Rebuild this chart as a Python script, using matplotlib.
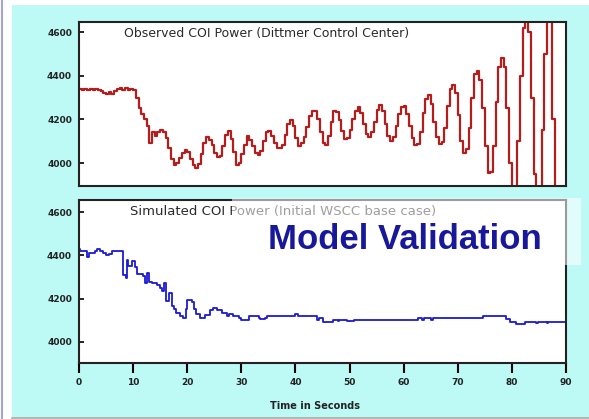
import matplotlib.pyplot as plt
from matplotlib.patches import Rectangle

# Observed COI power, sampled every 0.5 s (MW)
obs_t = [i * 0.5 for i in range(177)]
obs_mw = [
    4338, 4336, 4340, 4335, 4338, 4333, 4340, 4336, 4330, 4322,
    4316, 4324, 4318, 4332, 4338, 4342, 4336, 4344, 4336, 4340,
    4334, 4300, 4250, 4225, 4200, 4170, 4090, 4140, 4125, 4140,
    4150, 4142, 4115, 4070, 4020, 3990, 4000, 4025, 4045, 4058,
    4050, 4020, 3990, 3978, 3995, 4040, 4090, 4118, 4105, 4085,
    4045, 4030, 4032, 4080, 4130, 4145, 4110, 4050, 3990, 4000,
    4040, 4085, 4122, 4105, 4080, 4045, 4038, 4055, 4100, 4140,
    4147, 4125, 4090, 4070, 4068, 4085, 4130, 4180, 4196, 4170,
    4115, 4080, 4090, 4120, 4165, 4215, 4240, 4238, 4200, 4140,
    4090, 4085, 4125, 4190, 4240, 4235, 4195, 4145, 4110, 4115,
    4150, 4200, 4240, 4255, 4230, 4180, 4135, 4120, 4140, 4190,
    4245, 4266, 4240, 4180, 4125, 4100, 4120, 4170, 4225, 4255,
    4260, 4225, 4170, 4115, 4085, 4088, 4140, 4230, 4295, 4310,
    4270, 4190, 4120, 4088, 4095, 4160, 4260, 4340, 4357, 4320,
    4220, 4100, 4045, 4065, 4160, 4300, 4410, 4422, 4380, 4250,
    4080, 3955, 3960, 4080, 4280, 4440, 4480, 4440, 4250, 4000,
    3850, 3860, 4100, 4400, 4620, 4700, 4600, 4300, 3950, 3800,
    3850, 4150, 4500, 4720, 4650, 4200, 3850,
]

# Simulated COI power (initial WSCC base case), step changes
sim_t = [
    0.0, 0.2, 1.5, 1.9, 3.0, 3.3, 3.9, 4.5, 5.0, 5.6,
    6.1, 8.1, 8.2, 8.6, 8.8, 9.1, 9.8, 10.3, 10.8, 11.9,
    12.2, 12.6, 12.9, 13.4, 14.4, 15.0, 15.4, 15.8, 16.1, 16.7,
    17.1, 17.6, 18.0, 18.6, 19.2, 19.7, 20.0, 20.8, 21.3, 21.7,
    22.4, 23.2, 24.2, 24.7, 25.5, 26.4, 27.3, 27.8, 28.4, 29.6,
    30.0, 31.5, 33.3, 33.5, 34.3, 34.8, 38.4, 40.0, 40.5, 43.9,
    44.3, 45.1, 47.0, 47.8, 48.1, 49.5, 50.9, 62.6, 63.4, 63.7,
    65.0, 65.4, 74.6, 79.0, 79.6, 80.8, 82.4, 84.5, 84.8, 86.4,
    86.7, 90.0,
]
sim_mw = [
    4430, 4420, 4392, 4412, 4418, 4428, 4420, 4412, 4400, 4408,
    4418, 4418, 4308, 4296, 4380, 4350, 4372, 4345, 4312, 4306,
    4272, 4320, 4278, 4272, 4262, 4250, 4235, 4272, 4188, 4225,
    4166, 4150, 4133, 4120, 4110, 4150, 4195, 4186, 4150, 4130,
    4110, 4124, 4145, 4156, 4146, 4133, 4120, 4130, 4118, 4110,
    4102, 4120, 4112, 4106, 4110, 4120, 4120, 4128, 4120, 4102,
    4108, 4092, 4102, 4095, 4102, 4094, 4102, 4112, 4102, 4112,
    4102, 4112, 4120, 4104, 4092, 4084, 4090, 4087, 4090, 4086,
    4090, 4090,
]

y_ticks = [4000, 4200, 4400, 4600]
x_ticks = [0, 10, 20, 30, 40, 50, 60, 70, 80, 90]

W, H = 589, 419
fig = plt.figure(figsize=(W / 100, H / 100), dpi=100)
fig.patch.set_facecolor("white")


def fbox(x0, y0, x1, y1):
    # pixel box (top-left origin) -> figure fraction rect
    return [x0 / W, 1 - y1 / H, (x1 - x0) / W, (y1 - y0) / H]


# slide background
fig.add_artist(Rectangle((12 / W, 1 - 417 / H), (W - 12) / W, 412 / H,
                         transform=fig.transFigure, facecolor="#bdf9f5",
                         edgecolor="none", zorder=-10))
fig.add_artist(plt.Line2D([1.5 / W, 1.5 / W], [0, 1], transform=fig.transFigure,
                          color="#a4a4d0", lw=1.5, zorder=-9))
fig.add_artist(plt.Line2D([12 / W, 1], [1 - 418 / H, 1 - 418 / H],
                          transform=fig.transFigure, color="#a8a8a8", lw=1.2, zorder=-9))

ax1 = fig.add_axes(fbox(79, 22, 566, 186))
ax2 = fig.add_axes(fbox(79, 200, 566, 363))

ax1.plot(obs_t, obs_mw, drawstyle="steps-post", color="#b51c1c", lw=1.6)
ax2.plot(sim_t, sim_mw, drawstyle="steps-post", color="#1a1ad0", lw=1.3)

ax1.set_ylim(3895, 4646)
ax2.set_ylim(3902, 4656)
for ax in (ax1, ax2):
    ax.set_xlim(0, 90)
    ax.set_yticks(y_ticks)
    ax.tick_params(axis="y", direction="in", length=3.5, width=1.2, pad=5,
                   labelsize=6.5, labelcolor="#222222")
    for lab in ax.get_yticklabels():
        lab.set_fontweight("bold")
    for sp in ax.spines.values():
        sp.set_linewidth(1.5)
        sp.set_color("#222222")

ax1.set_xticks([])
ax2.set_xticks(x_ticks)
ax2.tick_params(axis="x", direction="out", length=7, width=1.5, pad=4,
                labelsize=6.5, labelcolor="#222222")
for lab in ax2.get_xticklabels():
    lab.set_fontweight("bold")

ax1.text(0.0924, 0.927, "Observed COI Power (Dittmer Control Center)",
         transform=ax1.transAxes, fontsize=9, color="#2a2a2a", va="center")
ax2.text(0.1047, 0.9325, "Simulated COI Power (Initial WSCC base case)",
         transform=ax2.transAxes, fontsize=9.5, color="#2a2a2a", va="center")

fig.text(315.5 / W, 1 - 406 / H, "Time in Seconds", fontsize=7,
         fontweight="bold", color="#222222", ha="center", va="center")

# translucent banner with the headline
fig.add_artist(Rectangle((232 / W, 1 - 265 / H), (581 - 232) / W, 67 / H,
                         transform=fig.transFigure, facecolor="white",
                         edgecolor="none", alpha=0.55, zorder=5))
fig.text(268 / W, 1 - 249 / H, "Model Validation", family="Liberation Sans",
         fontsize=25, fontweight="bold", color="#17189a", ha="left",
         va="baseline", zorder=6)

fig.savefig("out.png", dpi=100)
